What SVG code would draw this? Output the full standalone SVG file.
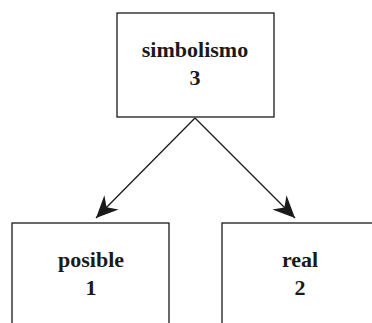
<svg xmlns="http://www.w3.org/2000/svg" width="372" height="323" viewBox="0 0 372 323">
  <style>
    .box { fill: #ffffff; stroke: #1a1a1a; stroke-width: 1.3; }
    .label { font-family: "Liberation Serif", "Times New Roman", serif; font-weight: bold; font-size: 22px; fill: #1a1a1a; text-anchor: middle; }
    .edge { stroke: #1a1a1a; stroke-width: 1.3; fill: none; marker-end: url(#barb); }
  </style>
  <defs>
    <marker id="barb" markerUnits="userSpaceOnUse" viewBox="-24 -12 26 24" refX="0" refY="0" markerWidth="26" markerHeight="24" orient="auto">
      <path d="M0,0 L-22,-10 L-15,0 L-22,10 Z" fill="#1a1a1a"/>
    </marker>
  </defs>
  <rect width="372" height="323" fill="#ffffff"/>

  <g id="connectors">
    <line class="edge" x1="195" y1="118" x2="96" y2="218"/>
    <line class="edge" x1="195" y1="118" x2="295" y2="218"/>
  </g>

  <g id="simbolismo">
    <rect class="box" x="117" y="13" width="157" height="104"/>
    <text class="label" x="195" y="57">simbolismo</text>
    <text class="label" x="195" y="85">3</text>
  </g>

  <g id="posible">
    <rect class="box" x="12" y="223" width="157" height="110"/>
    <text class="label" x="91" y="267">posible</text>
    <text class="label" x="91" y="295">1</text>
  </g>

  <g id="real">
    <rect class="box" x="222" y="223" width="157" height="110"/>
    <text class="label" x="300" y="267">real</text>
    <text class="label" x="300" y="295">2</text>
  </g>
</svg>
